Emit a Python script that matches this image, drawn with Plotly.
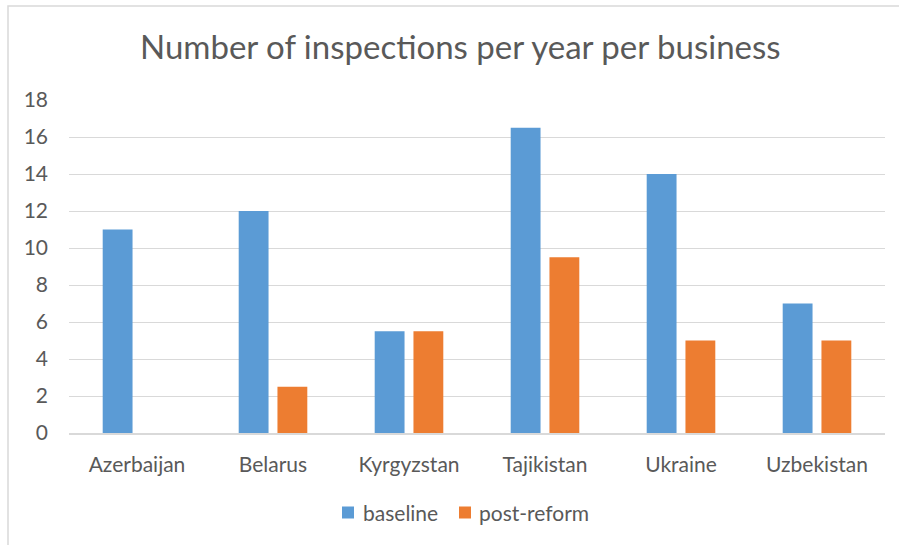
import plotly.graph_objects as go

countries = ["Azerbaijan", "Belarus", "Kyrgyzstan", "Tajikistan", "Ukraine", "Uzbekistan"]
baseline = [11, 12, 5.5, 16.5, 14, 7]
post_reform = [None, 2.5, 5.5, 9.5, 5, 5]
y_ticks = [0, 2, 4, 6, 8, 10, 12, 14, 16, 18]

series = [("baseline", baseline, "#5B9BD5"), ("post-reform", post_reform, "#ED7D31")]

TEXT = "#595959"
GRID = "#D9D9D9"
FONT = "Lato, Carlito, Calibri, sans-serif"

# plot area in pixels (for placing the frame and legend in paper coordinates)
L, R, T, B = 69, 885, 100, 433


def px_x(px):
    return (px - L) / (R - L)


def px_y(py):
    return (B - py) / (B - T)


fig = go.Figure()
for name, vals, color in series:
    fig.add_trace(go.Bar(name=name, x=countries, y=vals, marker_color=color,
                         marker_line_width=0, showlegend=False))

# legend: coloured square followed by the series name
legend_items = [(342, 361), (459, 477)]
shapes = [dict(type="rect", xref="paper", yref="paper",
               x0=px_x(8), x1=px_x(910), y0=px_y(560), y1=px_y(6),
               line=dict(color=GRID, width=1.5), fillcolor="rgba(0,0,0,0)",
               layer="below")]
annotations = []
for (sq_x, txt_x), (name, _, color) in zip(legend_items, series):
    shapes.append(dict(type="rect", xref="paper", yref="paper",
                       x0=px_x(sq_x), x1=px_x(sq_x + 12), y0=px_y(518.5), y1=px_y(506.5),
                       line=dict(width=0), fillcolor=color))
    annotations.append(dict(text=name, xref="paper", yref="paper", x=px_x(txt_x),
                            y=px_y(512), xanchor="left", yanchor="middle",
                            showarrow=False, font=dict(size=21, color=TEXT)))

fig.update_layout(
    width=899, height=545,
    margin=dict(l=L, r=899 - R, t=T, b=545 - B),
    paper_bgcolor="white", plot_bgcolor="white",
    font=dict(family=FONT, color=TEXT, size=21),
    barmode="group", bargap=0.43, bargroupgap=0.23,
    title=dict(text="Number of inspections per year per business",
               x=0.512, xanchor="center", y=0.913, yanchor="middle",
               font=dict(size=33, color=TEXT, family=FONT)),
    showlegend=False,
    xaxis=dict(showgrid=False, showline=True, linecolor=GRID, linewidth=1.5,
               ticks="", ticklabelstandoff=12, tickfont=dict(size=21, color=TEXT)),
    yaxis=dict(range=[0, 18], tickvals=y_ticks, showgrid=True, gridcolor=GRID,
               gridwidth=1.3, zeroline=False, showline=False, ticks="",
               ticklabelstandoff=20, tickfont=dict(size=21, color=TEXT)),
    shapes=shapes,
    annotations=annotations,
)

fig.write_html("out.html")
